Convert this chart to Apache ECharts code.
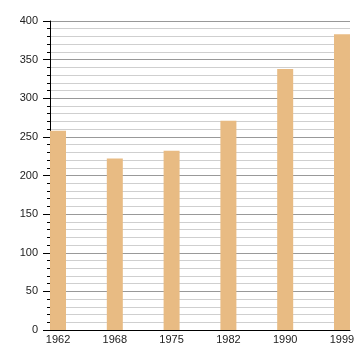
<!DOCTYPE html>
<html><head><meta charset="utf-8">
<script src="https://cdn.jsdelivr.net/npm/echarts@6/dist/echarts.min.js"></script>
<style>html,body{margin:0;padding:0;background:#fff}#c{width:360px;height:360px}</style>
</head><body><div id="c"></div>
<script>
var years = ['1962','1968','1975','1982','1990','1999'];
var values = [258, 222, 232, 271, 338, 383];
var yTicks = [0, 50, 100, 150, 200, 250, 300, 350, 400];

var chart = echarts.init(document.getElementById('c'), null, {renderer: 'canvas'});
var idx = years.map(function(_, i){ return i; });
chart.setOption({
  animation: false,
  grid: {left: 50, right: 10, top: 21, bottom: 30},
  xAxis: {
    type: 'value', min: -0.141, max: 5.141,
    axisLine: {show: true, onZero: false, lineStyle: {color: '#000', width: 1}},
    axisTick: {show: false},
    splitLine: {show: false},
    axisLabel: {
      customValues: idx,
      formatter: function(v){ return years[Math.round(v)]; },
      color: '#222', fontFamily: 'Liberation Sans', fontSize: 11, margin: 4
    }
  },
  yAxis: {
    type: 'value', min: yTicks[0], max: yTicks[yTicks.length-1], interval: 50,
    axisLine: {show: true, onZero: false, lineStyle: {color: '#000', width: 1}},
    axisTick: {show: true, length: 7, lineStyle: {color: '#000'}},
    minorTick: {show: true, splitNumber: 5, length: 3, lineStyle: {color: '#000'}},
    splitLine: {show: true, lineStyle: {color: '#999', width: 1}},
    minorSplitLine: {show: true, lineStyle: {color: '#cfcfcf', width: 1}},
    axisLabel: {color: '#222', fontFamily: 'Liberation Sans', fontSize: 11, margin: 12}
  },
  series: [{
    type: 'bar',
    barWidth: 16,
    itemStyle: {color: '#e8bb83'},
    data: values.map(function(v, i){ return [i, v]; })
  }]
});
</script></body></html>
